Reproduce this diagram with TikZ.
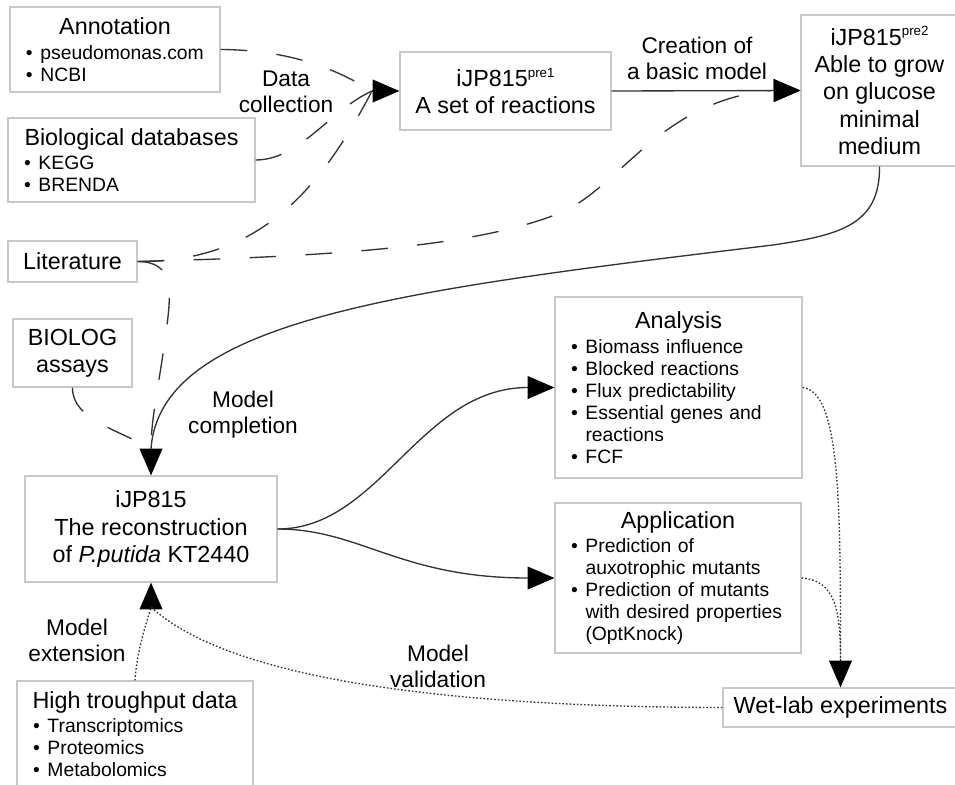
\documentclass[tikz,border=0pt]{standalone}
\usepackage{fontspec}
\setmainfont{Liberation Sans}
\usetikzlibrary{arrows.meta}

\definecolor{boxline}{HTML}{C8C8C8}
\definecolor{conn}{HTML}{333333}

\newcommand{\ttl}[1]{{\centering\fontsize{17.5}{20}\selectfont #1\par}\vspace{2pt}}
\newcommand{\bul}{\hspace*{4pt}\makebox[0.75em][l]{\textbullet}}
\newcommand{\indt}{\hspace*{4pt}\hspace*{0.75em}}
\newcommand{\presup}[1]{\raisebox{7pt}{\fontsize{10}{10}\selectfont #1}}

\tikzset{
    stagebox/.style={draw=boxline, line width=0.9pt, inner sep=0pt, align=center,
        font=\fontsize{17.5}{20.5}\selectfont},
    listbox/.style={stagebox, align=left, inner xsep=8pt,
        font=\fontsize{14.5}{16.5}\selectfont},
    lbl/.style={align=center, font=\fontsize{17}{19.5}\selectfont},
    flow/.style={draw=conn, line width=1pt},
    datalink/.style={flow, dash pattern=on 20pt off 22pt},
    checklink/.style={flow, dash pattern=on 1.2pt off 1.5pt},
    tipline/.style={flow, -{Triangle[length=20pt,width=17pt,color=black]}}
}

\begin{document}
\begin{tikzpicture}[x=0.75pt,y=-0.75pt]
    \useasboundingbox (0,0) rectangle (955,784);

    \node[listbox, text width=141.5pt, minimum height=63.75pt] (anno) at (115,49.5)
        {\ttl{Annotation}\bul pseudomonas.com\\\bul NCBI};
    \node[listbox, text width=169.25pt, minimum height=63pt] (dbs) at (131.5,160)
        {\ttl{Biological databases}\bul KEGG\\\bul BRENDA};
    \node[stagebox, minimum width=96.75pt, minimum height=30.75pt] (lit) at (72.5,261.5) {Literature};
    \node[stagebox, minimum width=89.25pt, minimum height=51pt] (biolog) at (72.5,353) {BIOLOG\\assays};
    \node[stagebox, minimum width=158.25pt, minimum height=58.5pt] (pre1) at (505.5,91)
        {iJP815\presup{pre1}\\A set of reactions};
    \node[stagebox, minimum width=117.75pt, minimum height=113.25pt] (pre2) at (879.5,90.5)
        {iJP815\presup{pre2}\\Able to grow\\on glucose\\minimal\\medium};
    \node[stagebox, minimum width=189pt, minimum height=79.5pt] (main) at (151,529)
        {iJP815\\The reconstruction\\of \textit{P.putida} KT2440};
    \node[listbox, text width=169.25pt, minimum height=135.75pt] (ana) at (678.5,387.5)
        {\ttl{Analysis}\bul Biomass influence\\\bul Blocked reactions\\\bul Flux predictability\\
         \bul Essential genes and\\\indt reactions\\\bul FCF};
    \node[listbox, text width=168.5pt, minimum height=112.5pt] (app) at (678,578)
        {\ttl{Application}\bul Prediction of\\\indt auxotrophic mutants\\\bul Prediction of mutants\\
         \indt with desired properties\\\indt (OptKnock)};
    \node[stagebox, minimum width=176.25pt, minimum height=29.25pt] (wet) at (840.5,707.5) {Wet-lab experiments};
    \node[listbox, text width=161pt, minimum height=79.5pt] (ht) at (135,734)
        {\ttl{High troughput data}\bul Transcriptomics\\\bul Proteomics\\\bul Metabolomics};

    \coordinate (in1) at (372,91);
    \coordinate (in2) at (772,90.5);
    \coordinate (in3) at (151,449);
    \coordinate (in4) at (528,387.5);
    \coordinate (in5) at (528,578);
    \coordinate (in6) at (840.5,660);
    \coordinate (in7) at (151,607);

    \draw[tipline] (in1) -- (pre1.west);
    \draw[tipline] (in2) -- (pre2.west);
    \draw[tipline] (in3) -- (main.north);
    \draw[tipline] (in4) -- (ana.west);
    \draw[tipline] (in5) -- (app.west);
    \draw[tipline] (in6) -- (wet.north);
    \draw[tipline] (in7) -- (main.south);
    \draw[tipline] (pre1.east) -- (pre2.west);

    \draw[datalink] (anno.east) .. controls (300,50) and (345,75) .. (in1);
    \draw[datalink] (dbs.east) .. controls (300,160) and (330,110) .. (in1);
    \draw[datalink] (lit.east) .. controls (260,262) and (320,190) .. (in1);
    \draw[datalink] (lit.east) .. controls (350,256) and (480,245) .. (560,213)
        .. controls (620,188) and (660,100) .. (in2);
    \draw[datalink] (lit.east) .. controls (175,262) and (172,290) .. (165,340)
        .. controls (158,390) and (151,420) .. (in3);
    \draw[datalink] (biolog.south) .. controls (72,420) and (120,430) .. (in3);

    \draw[flow] (pre2.south) .. controls (880,225) and (840,235) .. (773,245)
        .. controls (400,290) and (160,320) .. (in3);
    \draw[flow] (main.east) .. controls (380,529) and (420,387.5) .. (in4);
    \draw[flow] (main.east) .. controls (360,529) and (400,578) .. (in5);

    \draw[checklink] (ana.east) .. controls (840,392) and (840.5,500) .. (in6);
    \draw[checklink] (app.east) .. controls (835,580) and (840.5,610) .. (in6);
    \draw[checklink] (wet.west) .. controls (450,707) and (230,680) .. (in7);
    \draw[checklink] (ht.north) .. controls (137,650) and (146,625) .. (in7);

    \node[lbl] (collect) at (286,92) {Data\\collection};
    \node[lbl] (create) at (697,58) {Creation of\\a basic model};
    \node[lbl] (complete) at (243,415) {Model\\completion};
    \node[lbl] (extend) at (77,640) {Model\\extension};
    \node[lbl] (validate) at (438,666) {Model\\validation};
\end{tikzpicture}
\end{document}
